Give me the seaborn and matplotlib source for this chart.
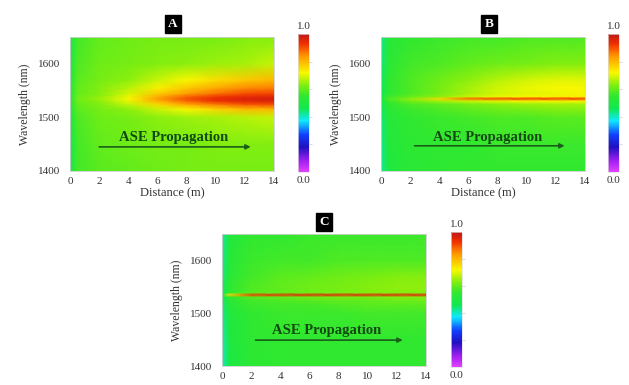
import numpy as np
import matplotlib
matplotlib.use("Agg")
import matplotlib.pyplot as plt
from matplotlib.colors import LinearSegmentedColormap
import seaborn as sns

sns.set_theme(style="white")
plt.rcParams['font.family'] = ['Liberation Serif', 'DejaVu Serif']

# ---------------- data ----------------
distance = [0, 0.5, 2, 4, 6, 8, 10, 12, 14]          # m
wavelength = [1400, 1450, 1500, 1515, 1525, 1531, 1535, 1539, 1545, 1555, 1570, 1600, 1650]  # nm

intensity_A = [
    [0.47, 0.57, 0.59, 0.60, 0.61, 0.62, 0.62, 0.62, 0.62],
    [0.47, 0.57, 0.60, 0.61, 0.62, 0.62, 0.63, 0.63, 0.63],
    [0.48, 0.58, 0.61, 0.62, 0.64, 0.65, 0.66, 0.67, 0.68],
    [0.49, 0.59, 0.62, 0.64, 0.68, 0.72, 0.76, 0.79, 0.80],
    [0.50, 0.60, 0.63, 0.68, 0.76, 0.83, 0.87, 0.90, 0.91],
    [0.51, 0.61, 0.64, 0.71, 0.81, 0.88, 0.93, 0.95, 0.96],
    [0.51, 0.61, 0.65, 0.72, 0.83, 0.90, 0.94, 0.96, 0.97],
    [0.51, 0.61, 0.64, 0.71, 0.81, 0.88, 0.92, 0.94, 0.95],
    [0.50, 0.60, 0.63, 0.69, 0.77, 0.83, 0.87, 0.90, 0.91],
    [0.50, 0.60, 0.63, 0.67, 0.73, 0.78, 0.82, 0.85, 0.86],
    [0.49, 0.59, 0.62, 0.64, 0.68, 0.72, 0.75, 0.78, 0.80],
    [0.48, 0.58, 0.61, 0.62, 0.63, 0.64, 0.65, 0.66, 0.68],
    [0.47, 0.57, 0.60, 0.61, 0.62, 0.62, 0.62, 0.63, 0.63],
]

intensity_B = [
    [0.42, 0.50, 0.53, 0.54, 0.55, 0.55, 0.55, 0.55, 0.55],
    [0.43, 0.51, 0.54, 0.55, 0.55, 0.56, 0.56, 0.56, 0.56],
    [0.44, 0.52, 0.55, 0.56, 0.57, 0.58, 0.58, 0.59, 0.59],
    [0.45, 0.53, 0.56, 0.58, 0.60, 0.61, 0.62, 0.63, 0.63],
    [0.46, 0.54, 0.58, 0.60, 0.62, 0.64, 0.65, 0.66, 0.66],
    [0.47, 0.56, 0.62, 0.66, 0.69, 0.71, 0.72, 0.72, 0.72],
    [0.49, 0.58, 0.64, 0.76, 0.88, 0.91, 0.92, 0.92, 0.92],
    [0.47, 0.56, 0.60, 0.64, 0.68, 0.71, 0.72, 0.73, 0.73],
    [0.46, 0.54, 0.58, 0.62, 0.66, 0.69, 0.70, 0.71, 0.72],
    [0.46, 0.54, 0.58, 0.62, 0.66, 0.69, 0.71, 0.72, 0.72],
    [0.45, 0.54, 0.58, 0.61, 0.64, 0.67, 0.69, 0.70, 0.70],
    [0.44, 0.53, 0.57, 0.58, 0.60, 0.61, 0.62, 0.63, 0.63],
    [0.43, 0.52, 0.55, 0.56, 0.57, 0.57, 0.58, 0.58, 0.58],
]

intensity_C = [
    [0.40, 0.49, 0.54, 0.55, 0.55, 0.55, 0.55, 0.55, 0.55],
    [0.41, 0.50, 0.54, 0.55, 0.55, 0.55, 0.55, 0.55, 0.55],
    [0.43, 0.51, 0.55, 0.56, 0.56, 0.56, 0.57, 0.57, 0.57],
    [0.44, 0.52, 0.56, 0.57, 0.57, 0.58, 0.59, 0.59, 0.59],
    [0.45, 0.53, 0.57, 0.58, 0.59, 0.60, 0.60, 0.61, 0.61],
    [0.46, 0.55, 0.59, 0.60, 0.61, 0.62, 0.62, 0.63, 0.63],
    [0.48, 0.75, 0.92, 0.94, 0.95, 0.95, 0.95, 0.95, 0.95],
    [0.46, 0.55, 0.59, 0.60, 0.61, 0.62, 0.63, 0.63, 0.63],
    [0.45, 0.54, 0.58, 0.60, 0.61, 0.62, 0.63, 0.64, 0.64],
    [0.45, 0.54, 0.58, 0.60, 0.61, 0.62, 0.63, 0.64, 0.64],
    [0.44, 0.53, 0.57, 0.59, 0.60, 0.61, 0.62, 0.63, 0.63],
    [0.43, 0.52, 0.56, 0.57, 0.57, 0.58, 0.58, 0.58, 0.58],
    [0.42, 0.51, 0.55, 0.55, 0.56, 0.56, 0.56, 0.56, 0.56],
]

panel_labels = ["A", "B", "C"]
x_ticks = [0, 2, 4, 6, 8, 10, 12, 14]
y_ticks = [1400, 1500, 1600]
annotation = "ASE Propagation"

# ---------------- style ----------------
cmap = LinearSegmentedColormap.from_list("origin_rainbow", [
    (0.00, "#e040ff"),
    (0.08, "#a020f0"),
    (0.18, "#2010c0"),
    (0.27, "#1040ff"),
    (0.37, "#10e8ff"),
    (0.46, "#10e850"),
    (0.55, "#30e830"),
    (0.63, "#80ee10"),
    (0.72, "#f8f800"),
    (0.84, "#ff9800"),
    (0.93, "#f03000"),
    (1.00, "#c01818"),
])

fig = plt.figure(figsize=(6.29, 3.85), dpi=100)
W, H = 629, 385

def fr(x0, y0, x1, y1):
    return [x0 / W, 1 - y1 / H, (x1 - x0) / W, (y1 - y0) / H]

layouts = [
    dict(ax=fr(70, 37, 274, 171), cb=fr(298, 34, 309, 172), box=(173, 24), xlabel=True,
         data=intensity_A, arrow=(2.0, 12.4, 1445), text=(7.1, 1463)),
    dict(ax=fr(381, 37, 585, 171), cb=fr(608, 34, 619, 172), box=(489, 24), xlabel=True,
         data=intensity_B, arrow=(2.3, 12.6, 1447), text=(7.3, 1463)),
    dict(ax=fr(222, 234, 426, 366), cb=fr(451, 232, 462, 367), box=(324, 222), xlabel=False,
         data=intensity_C, arrow=(2.3, 12.4, 1449), text=(7.2, 1467)),
]

X, Y = np.meshgrid(distance, wavelength)
for lab, L in zip(panel_labels, layouts):
    ax = fig.add_axes(L["ax"])
    Z = np.array(L["data"])
    mesh = ax.pcolormesh(X, Y, Z, shading="gouraud", cmap=cmap, vmin=0, vmax=1)
    ax.set_xlim(0, 14)
    ax.set_ylim(1400, 1650)
    ax.set_xticks(x_ticks)
    ax.set_yticks(y_ticks)
    ax.tick_params(labelsize=8, length=0, colors="#333333")
    ax.tick_params(axis="y", pad=7)
    ax.tick_params(axis="x", pad=4)
    for s in ax.spines.values():
        s.set_color("#d0d0d0")
        s.set_linewidth(0.6)
    ax.set_ylabel("Wavelength (nm)", fontsize=8.5, color="#333333", labelpad=5)
    if L["xlabel"]:
        ax.set_xlabel("Distance (m)", fontsize=9, color="#333333", labelpad=1.5)
    x0, x1, ya = L["arrow"]
    ax.annotate("", xy=(x1, ya), xytext=(x0, ya),
                arrowprops=dict(arrowstyle="-|>", color="#1b5e1b", lw=1.2,
                                mutation_scale=7, shrinkA=0, shrinkB=0))
    tx, ty = L["text"]
    ax.text(tx, ty, annotation, ha="center", va="center", fontsize=10.5,
            fontweight="bold", color="#124a12")

    cax = fig.add_axes(L["cb"])
    cb = fig.colorbar(mesh, cax=cax)
    cb.outline.set_edgecolor("#dddddd")
    cb.outline.set_linewidth(0.5)
    cb.set_ticks([0.2, 0.4, 0.6, 0.8])
    cb.ax.tick_params(length=2, width=0.4, color="#bbbbbb", labelsize=0, labelright=False)
    cax.text(0.5, 1.02, "1.0", transform=cax.transAxes, ha="center", va="bottom",
             fontsize=8, color="#333333")
    cax.text(0.5, -0.03, "0.0", transform=cax.transAxes, ha="center", va="top",
             fontsize=8, color="#333333")

    bx, by = L["box"]
    fig.text(bx / W, 1 - by / H, lab, ha="center", va="center", fontsize=9.5,
             fontweight="bold", color="white",
             bbox=dict(boxstyle="square,pad=0.25", fc="black", ec="black"))

fig.savefig("out.png", dpi=100)
